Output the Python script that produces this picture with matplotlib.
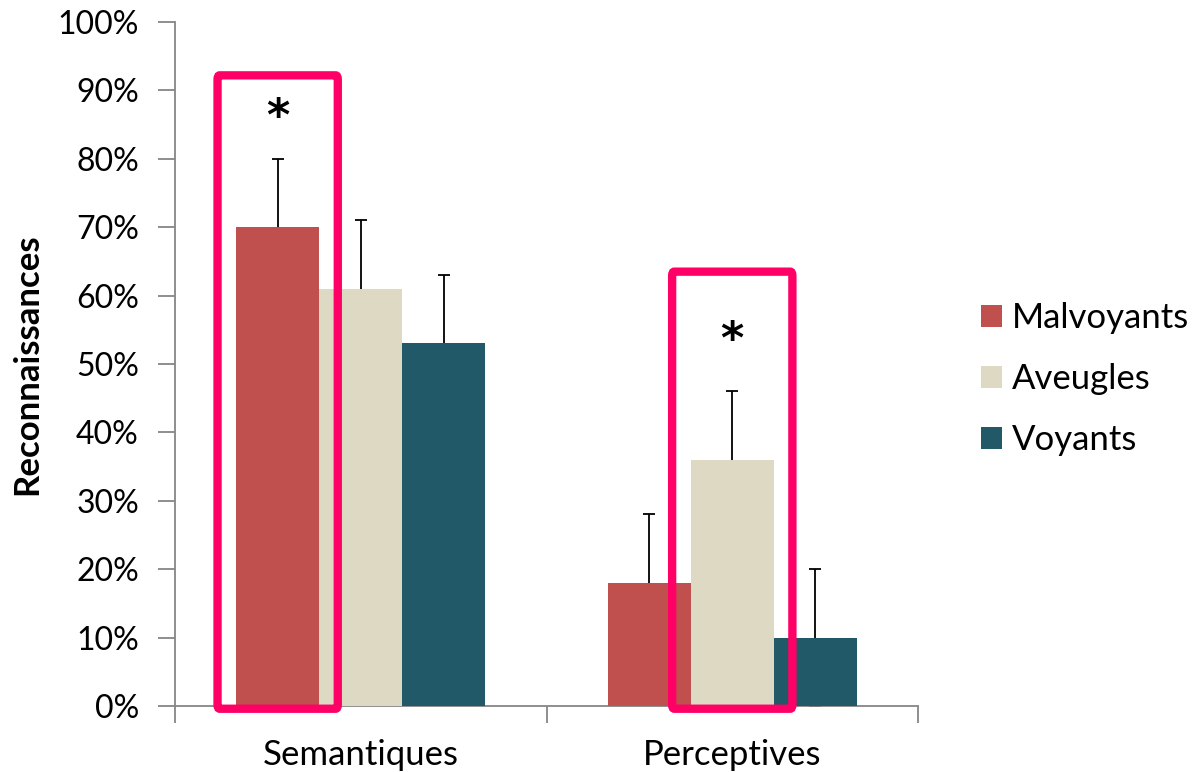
import matplotlib
import matplotlib.pyplot as plt
import numpy as np
from matplotlib.patches import FancyBboxPatch

matplotlib.use('Agg')

plt.rcParams['font.family'] = ['Lato', 'DejaVu Sans']

categories = ['Semantiques', 'Perceptives']
groups = ['Malvoyants', 'Aveugles', 'Voyants']
malvoyants = [70, 18]
aveugles = [61, 36]
voyants = [53, 10]
err_malvoyants = [10, 10]
err_aveugles = [10, 10]
err_voyants = [10, 10]

# highlighted bars: (category index, group index, box top %, star y %)
highlights = [(0, 0, 92.2, 86.0), (1, 1, 63.5, 53.4)]

couleurs = ['#C0504D', '#DDD9C3', '#215968']
rose = '#FF0066'

fig = plt.figure(figsize=(11.93, 7.72), dpi=100)
ax = fig.add_axes([0.1467, 0.0855, 0.6228, 0.886])

x = np.arange(len(categories))
w = 0.2237
series = [malvoyants, aveugles, voyants]
errs = [err_malvoyants, err_aveugles, err_voyants]

for i, (vals, er) in enumerate(zip(series, errs)):
    pos = x + (i - 1) * w
    ax.bar(pos, vals, width=w, color=couleurs[i], label=groups[i], zorder=3)
    # lower half hidden behind the bars
    ax.errorbar(pos, vals, yerr=er, fmt='none',
                ecolor='black', elinewidth=1.3, capsize=4.5, capthick=1.3,
                zorder=2)

pad = 0.05
for ci, gi, top, star in highlights:
    left = x[ci] + (gi - 1) * w - w / 2 - pad
    box = FancyBboxPatch((left, -0.4), w + 2 * pad, top + 0.4,
                         boxstyle='round,pad=0,rounding_size=0.006',
                         fill=False, edgecolor=rose, linewidth=6,
                         clip_on=False, zorder=4, mutation_aspect=100)
    ax.add_patch(box)
    ax.text(x[ci] + (gi - 1) * w, star, '*', ha='center', va='center',
            fontsize=32, fontweight='bold', family='DejaVu Sans')

ax.set_xlim(-0.5, 1.5)
ax.set_ylim(0, 100)
ax.set_yticks(np.arange(0, 101, 10))
ax.set_yticklabels([f'{v}%' for v in range(0, 101, 10)], fontsize=23)
ax.set_xticks(x)
ax.set_xticklabels(categories, fontsize=25)
ax.set_xticks([-0.5, 0.5, 1.5], minor=True)
ax.tick_params(axis='x', which='major', length=0, pad=24)
ax.tick_params(axis='x', which='minor', length=12, color='#868686', width=1.3)
ax.tick_params(axis='y', length=12, color='#868686', width=1.3, pad=14)

for s in ['top', 'right']:
    ax.spines[s].set_visible(False)
for s in ['left', 'bottom']:
    ax.spines[s].set_color('#868686')
    ax.spines[s].set_linewidth(1.3)

ax.set_ylabel('Reconnaissances', fontsize=25, fontweight='bold', labelpad=10)

ax.legend(loc='center left', bbox_to_anchor=(1.066, 0.478), frameon=False,
          borderaxespad=0, fontsize=25, handlelength=0.6, handleheight=0.6,
          handletextpad=0.3, labelspacing=0.84)

plt.savefig('out.png', dpi=100)
plt.close()
